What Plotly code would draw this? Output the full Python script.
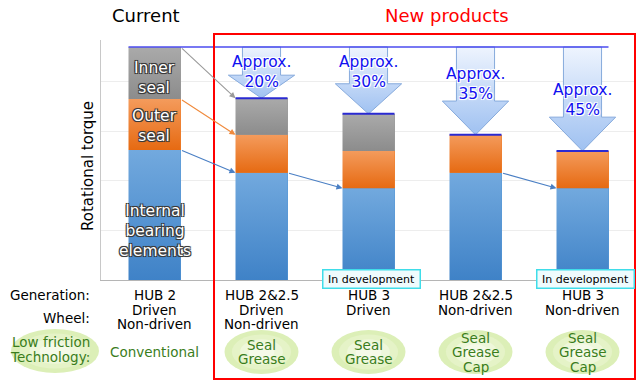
import plotly.graph_objects as go

# ---------------- data ----------------
categories = ["HUB 2", "HUB 2&2.5", "HUB 3", "HUB 2&2.5", "HUB 3"]
internal = [55.8, 46.0, 39.4, 46.0, 39.4]
outer = [21.9, 16.3, 16.0, 16.3, 16.0]
inner = [22.3, 15.7, 15.9, 0.0, 0.0]
reduction = [None, "20%", "30%", "35%", "45%"]
wheel = [["Driven", "Non-driven"], ["Driven", "Non-driven"], ["Driven"], ["Non-driven"], ["Non-driven"]]
technology = [["Conventional"], ["Seal", "Grease"], ["Seal", "Grease"],
              ["Seal", "Grease", "Cap"], ["Seal", "Grease", "Cap"]]
in_development = [False, False, True, False, True]
flows = [(0, 1, "inner"), (0, 1, "outer"), (0, 1, "internal"), (1, 2, "internal"), (3, 4, "internal")]

# ---------------- layout helpers ----------------
W, H = 640, 390
L, R, T, B = 101, 636, 40, 280
FONT = "DejaVu Sans, Arial, sans-serif"
GREEN = "#3a7d1c"
BW = 0.486
hb = BW / 2


def px(xp):
    return (xp - L) / (R - L)


def py(yp):
    return (B - yp) / (B - T)


xs = list(range(len(categories)))
totals = [a + b + c for a, b, c in zip(internal, outer, inner)]
levels = {
    "internal": internal,
    "outer": [a + b for a, b in zip(internal, outer)],
    "inner": totals,
}
flow_colors = {"inner": "#9a9a9a", "outer": "#f08a3c", "internal": "#4a7fc4"}

fig = go.Figure()
seg_styles = [
    ("Internal bearing elements", internal, "#5597d6", [[0, "#3f82c7"], [1, "#72a9de"]]),
    ("Outer seal", outer, "#ef7f2c", [[0, "#e66a12"], [1, "#f49b5c"]]),
    ("Inner seal", inner, "#9b9b9b", [[0, "#8c8c8c"], [1, "#aaaaaa"]]),
]
for name, vals, col, _ in seg_styles:
    fig.add_trace(go.Bar(x=xs, y=vals, width=BW, marker=dict(color=col, line=dict(width=0)), name=name))

# gradient overlay for each stacked segment (same data)
base = [0.0] * len(xs)
for name, vals, col, cs in seg_styles:
    for i in xs:
        if vals[i] > 0:
            y0, y1 = base[i], base[i] + vals[i]
            fig.add_trace(go.Scatter(
                x=[i - hb, i + hb, i + hb, i - hb, i - hb], y=[y0, y0, y1, y1, y0],
                mode="lines", line=dict(width=0), fill="toself",
                fillgradient=dict(type="vertical", colorscale=cs),
                hoverinfo="skip", showlegend=False))
    base = [b + v for b, v in zip(base, vals)]

shapes = []
annotations = []


def pann(text, xp, yp, font, xanchor="center", **kw):
    annotations.append(dict(x=px(xp), y=py(yp), xref="paper", yref="paper", xanchor=xanchor,
                            yanchor="middle", showarrow=False, text=text, font=font, **kw))


# reduction arrows
top = totals[0]
for i in xs:
    if reduction[i] is None:
        continue
    t = totals[i]
    head = min(14.5, 0.45 * (top - t))
    sw, hw = 0.178, 0.31
    hy = t + head
    fig.add_trace(go.Scatter(
        x=[i - sw, i + sw, i + sw, i + hw, i, i - hw, i - sw, i - sw],
        y=[top, top, hy, hy, t, hy, hy, top],
        mode="lines", fill="toself", line=dict(color="#86aadc", width=1),
        fillgradient=dict(type="vertical", colorscale=[[0, "#9fc1f1"], [1, "#eef4fe"]]),
        hoverinfo="skip", showlegend=False))
    annotations.append(dict(
        x=i, y=min(89.4, t + 22), xref="x", yref="y", xanchor="center", yanchor="middle",
        showarrow=False, text="Approx.<br>" + reduction[i],
        font=dict(family=FONT, size=15.5, color="#1010f0",
                  shadow="1px 1px 0 #fff, -1px -1px 0 #fff, 1px -1px 0 #fff, -1px 1px 0 #fff, 0 0 3px #fff")))
    shapes.append(dict(type="line", xref="x", yref="y", x0=i - hb, x1=i + hb, y0=t, y1=t,
                       line=dict(color="#2a2ad2", width=2)))

# reference line at current level
shapes.append(dict(type="line", xref="x", yref="y", x0=-hb, x1=xs[-1] + hb, y0=top, y1=top,
                   line=dict(color="#4b4bef", width=1.5)))

# flow arrows
for a, b, key in flows:
    annotations.append(dict(
        x=b - hb, y=levels[key][b], ax=a + hb, ay=levels[key][a],
        xref="x", yref="y", axref="x", ayref="y", showarrow=True, text="",
        arrowhead=2, arrowsize=1.1, arrowwidth=1.1, arrowcolor=flow_colors[key], standoff=0))

# segment labels on current bar
seg_shadow = "1px 1px 0 #3a3a3a, -1px -1px 0 #3a3a3a, 1px -1px 0 #3a3a3a, -1px 1px 0 #3a3a3a, 0 0 2px #3a3a3a"
seg_labels = [("Inner<br>seal", levels["outer"][0] + inner[0] * 0.4),
              ("Outer<br>seal", internal[0] + outer[0] / 2 - 0.5),
              ("Internal<br>bearing<br>elements", internal[0] * 0.377)]
for txt, yv in seg_labels:
    annotations.append(dict(x=0, y=yv, xref="x", yref="y", xanchor="center", yanchor="middle",
                            showarrow=False, text=txt,
                            font=dict(family=FONT, size=15.5, color="white", shadow=seg_shadow)))

# headings
pann("Current", 146, 16, dict(family=FONT, size=18, color="black"))
pann("New products", 447, 16, dict(family=FONT, size=18, color="#ff0000"))
pann("Rotational torque", 88, 166, dict(family=FONT, size=15, color="black"), textangle=-90)

# new products frame
shapes.append(dict(type="rect", xref="paper", yref="paper", x0=px(214), x1=px(635), y0=py(379), y1=py(34),
                   line=dict(color="#ff0000", width=2), layer="above"))


# ellipses (soft gradient by layering)
def ellipse(cx, cy, rx, ry, xref):
    layers = [(1.0, "#dcefb7"), (0.8, "#e5f3c7"), (0.58, "#eef7da"), (0.35, "#f5fae8")]
    for k, c in layers:
        if xref == "x":
            x0, x1 = cx - rx * k, cx + rx * k
        else:
            x0, x1 = px(cx - rx * k), px(cx + rx * k)
        shapes.append(dict(type="circle", xref=xref, yref="paper", x0=x0, x1=x1,
                           y0=py(cy + ry * k), y1=py(cy - ry * k), fillcolor=c, line=dict(width=0),
                           layer="below"))


ellipse(55, 351, 44, 22, "paper")
for i in xs:
    if technology[i][0] != "Conventional":
        ellipse(i, 352, 37 / 107, 22, "x")

# row labels
row_font = dict(family=FONT, size=13.5, color="black")
green_font = dict(family=FONT, size=13.5, color=GREEN)
for txt, yp, f in [("Generation:", 295, row_font), ("Wheel:", 318, row_font),
                   ("Low friction", 342, green_font), ("Technology:", 357, green_font)]:
    pann(txt, 92, yp, f, xanchor="right")

# column labels
LS = 14.5
for i in xs:
    lines = [categories[i]] + wheel[i]
    for k, txt in enumerate(lines):
        annotations.append(dict(x=i, y=py(295 + k * LS), xref="x", yref="paper", xanchor="center",
                                yanchor="middle", showarrow=False, text=txt, font=row_font))
    tl = technology[i]
    y0 = 352 - (len(tl) - 1) * LS / 2
    for k, txt in enumerate(tl):
        annotations.append(dict(x=i, y=py(y0 + k * LS), xref="x", yref="paper", xanchor="center",
                                yanchor="middle", showarrow=False, text=txt, font=green_font))
    if in_development[i]:
        annotations.append(dict(x=i + 0.03, y=py(278.5), xref="x", yref="paper", xanchor="center",
                                yanchor="middle", showarrow=False,
                                text="In development", width=94, height=15, borderpad=1,
                                bordercolor="#3fdde9", borderwidth=1.5, bgcolor="#effbfd",
                                font=dict(family=FONT, size=11, color="black")))

fig.update_layout(
    width=W, height=H, barmode="stack", bargap=0, showlegend=False,
    margin=dict(l=L, r=W - R, t=T, b=H - B),
    paper_bgcolor="white", plot_bgcolor="white",
    xaxis=dict(range=[-0.5, len(xs) - 0.5], showticklabels=False, ticks="", showgrid=False,
               zeroline=False, showline=True, linecolor="#b5b5b5", linewidth=1),
    yaxis=dict(range=[0, 103], showticklabels=False, ticks="", showgrid=True, gridcolor="#ededed",
               tick0=0, dtick=21.3, zeroline=False, showline=True, linecolor="#c8c8c8", linewidth=1),
    shapes=shapes, annotations=annotations,
)

fig.write_html("out.html", config={"displayModeBar": False},
               post_script="document.body.style.margin='0';document.body.style.padding='0';")
